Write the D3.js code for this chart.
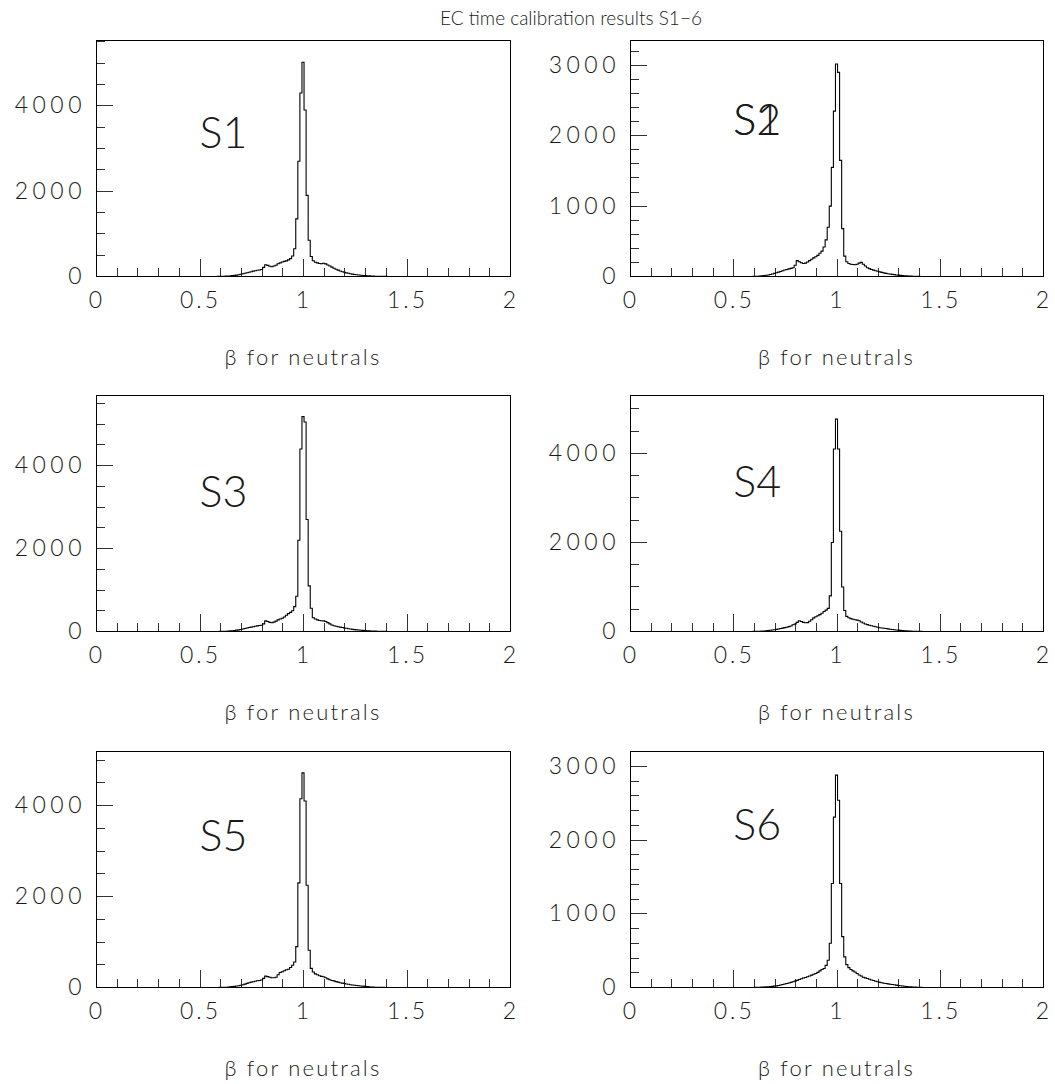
<!DOCTYPE html>
<html>
<head>
<meta charset="utf-8">
<script src="https://cdn.jsdelivr.net/npm/d3@7"></script>
<style>
  html, body { margin: 0; padding: 0; background: #fff; }
  svg { display: block; }
  text { font-family: Lato, "DejaVu Sans", sans-serif; font-weight: 300; fill: #1a1a1a; }
</style>
</head>
<body>
<svg id="chart" width="1055" height="1084"></svg>
<script>
// ---------------- data ----------------
const title = "EC time calibration results S1\u22126";
const sectorLabels = ["S1", "S2", "S3", "S4", "S5", "S6"];
const xTitle = "\u03B2 for neutrals";
const xDomain = [0, 2];
const xMajorTicks = [0, 0.5, 1, 1.5, 2];
const xTickLabels = ["0", "0.5", "1", "1.5", "2"];
const binStart = 0.55;   // centre of first listed bin
const binWidth = 0.01;
// y-axis maxima of each pad
const yMax = [5530, 3353, 5690, 5300, 5190, 3200];
// y major / minor tick steps of each pad
const yMajorStep = [2000, 1000, 2000, 2000, 2000, 1000];
const yMinorStep = [500, 200, 500, 500, 500, 200];
// label anchor (data coordinates) of each pad
const labelX = [0.5, 0.5, 0.5, 0.5, 0.5, 0.5];
const labelY = [3000, 2000, 3000, 3000, 3000, 2000];

// bin contents, bins centred at 0.55, 0.56, ... 1.45 (zero elsewhere)
const s1 = [0,0,0,1,2,3,4,6,8,11,
  15,20,26,33,42,52,63,75,88,100,
  112,125,135,145,152,165,215,275,260,240,
  230,245,265,300,320,340,355,365,390,420,
  480,650,1350,2700,4300,5020,3900,1900,850,470,
  370,335,320,305,300,310,295,270,245,220,
  195,170,150,130,112,98,86,75,65,56,
  48,41,35,30,25,21,17,14,11,9,
  7,5,4,3,2,2,1,1,0,0,
  0];
const s2 = [0,0,0,1,1,2,3,4,6,9,
  13,17,22,28,35,44,53,62,72,82,
  92,100,108,115,125,160,225,210,195,185,
  190,205,225,245,265,280,300,330,360,420,
  520,700,1000,1550,2350,3020,2900,1650,680,290,
  210,185,175,170,168,175,190,200,175,150,
  125,112,100,90,82,74,66,58,51,45,
  40,35,30,26,22,19,16,13,11,9,
  7,5,4,3,2,2,1,1,0,0,
  0];
const s3 = [0,0,0,0,1,2,3,5,7,10,
  14,19,25,32,40,50,60,72,84,96,
  106,115,125,135,145,152,185,255,240,220,
  210,225,250,280,300,320,350,390,430,460,
  500,600,850,2200,4400,5180,5050,2700,1100,560,
  330,300,280,265,260,255,240,215,185,155,
  140,128,116,105,96,86,77,68,60,52,
  45,40,35,30,26,22,18,15,12,10,
  8,6,5,4,3,2,1,1,0,0,
  0];
const s4 = [0,0,0,0,1,2,3,4,6,9,
  12,16,21,27,33,40,48,57,66,76,
  86,96,110,125,150,170,205,240,225,205,
  195,200,230,265,305,330,355,380,410,450,
  480,520,800,2000,4100,4770,4100,2250,1000,470,
  340,310,290,275,265,255,240,215,190,168,
  155,142,130,118,106,95,85,78,72,66,
  58,52,45,40,35,30,25,21,17,14,
  11,9,7,5,4,3,2,1,1,0,
  0];
const s5 = [0,0,0,0,1,2,3,5,7,10,
  14,19,25,32,40,51,62,75,90,105,
  118,128,138,148,155,165,200,250,240,225,
  215,213,225,280,330,345,370,390,400,440,
  490,560,900,2300,4150,4720,4100,2250,820,420,
  340,300,280,260,245,235,215,190,170,155,
  145,130,118,106,96,88,78,70,62,55,
  51,44,38,33,30,24,19,15,12,9,
  7,5,4,3,2,1,1,0,0,0,
  0];
const s6 = [0,0,0,0,1,1,2,3,4,5,
  6,8,10,12,15,18,22,27,33,40,
  48,54,62,70,78,86,96,108,118,128,
  136,145,155,168,180,190,205,225,245,258,
  300,370,600,1410,2310,2880,2540,1410,690,415,
  310,270,245,225,210,190,170,155,140,130,
  122,112,102,94,85,77,70,64,58,54,
  49,45,41,37,32,28,24,20,17,14,
  11,9,7,5,4,3,2,1,1,0,
  0];
const series = [s1, s2, s3, s4, s5, s6];

// ---------------- layout ----------------
const svg = d3.select("#chart");
const colLeft = [96, 630];
const colRight = [510, 1043];
const rowTop = [40, 395, 751];
const padH = 236;

svg.append("text")
  .attr("x", 571).attr("y", 25)
  .attr("text-anchor", "middle")
  .style("font-size", "19px")
  .style("letter-spacing", "0px")
  .text(title);

series.forEach((vals, i) => {
  const col = i % 2, row = Math.floor(i / 2);
  const x0 = colLeft[col], x1 = colRight[col];
  const y0 = rowTop[row], y1 = rowTop[row] + padH;
  const x = d3.scaleLinear().domain(xDomain).range([x0, x1]);
  const y = d3.scaleLinear().domain([0, yMax[i]]).range([y1, y0]);
  const g = svg.append("g");

  // x ticks (inside, upward)
  const isMajorX = d => xMajorTicks.some(m => Math.abs(m - d) < 1e-9);
  const xMinor = d3.range(0, 21).map(k => k / 10);
  const xAxis = d3.axisTop(x).tickValues(xMinor).tickSizeOuter(0).tickFormat("");
  const gx = g.append("g").attr("transform", `translate(0,${y1})`).call(xAxis);
  gx.select(".domain").remove();
  gx.selectAll(".tick line")
    .attr("y2", d => isMajorX(d) ? -17 : -8.5)
    .attr("stroke", "#333").attr("shape-rendering", "crispEdges");

  // y ticks (inside, rightward)
  const yMinor = d3.range(0, yMax[i] + 1e-6, yMinorStep[i]);
  const yAxis = d3.axisRight(y).tickValues(yMinor).tickSizeOuter(0).tickFormat("");
  const gy = g.append("g").attr("transform", `translate(${x0},0)`).call(yAxis);
  gy.select(".domain").remove();
  gy.selectAll(".tick line")
    .attr("x2", d => (d % yMajorStep[i] === 0) ? 17 : 9)
    .attr("stroke", "#333").attr("shape-rendering", "crispEdges");

  // histogram as steps
  const pts = [[xDomain[0], 0]];
  vals.forEach((v, k) => {
    const lo = binStart + k * binWidth - binWidth / 2;
    pts.push([lo, v]);
  });
  const lastHi = binStart + (vals.length - 1) * binWidth + binWidth / 2;
  pts.push([lastHi, 0]);
  pts.push([xDomain[1], 0]);
  const line = d3.line().x(d => x(d[0])).y(d => y(d[1]) + 0.5).curve(d3.curveStepAfter);
  g.append("path").datum(pts)
    .attr("d", line)
    .attr("fill", "none")
    .attr("stroke", "#000")
    .attr("stroke-width", 1.1);

  // frame
  g.append("rect")
    .attr("x", x0).attr("y", y0)
    .attr("width", x1 - x0).attr("height", y1 - y0)
    .attr("fill", "none").attr("stroke", "#000").attr("stroke-width", 1)
    .attr("shape-rendering", "crispEdges");

  // x tick labels
  xMajorTicks.forEach((t, k) => {
    g.append("text")
      .attr("x", x(t) + 1).attr("y", y1 + 32)
      .attr("text-anchor", "middle")
      .style("font-size", "23px")
      .style("letter-spacing", "3px")
      .text(xTickLabels[k]);
  });

  // y tick labels
  const yMajor = d3.range(0, yMax[i] + 1e-6, yMajorStep[i]);
  yMajor.forEach(t => {
    g.append("text")
      .attr("x", x0 - 10).attr("y", y(t) + 8)
      .attr("text-anchor", "end")
      .style("font-size", "23px")
      .style("letter-spacing", "4.5px")
      .text(d3.format("d")(t));
  });

  // axis title
  g.append("text")
    .attr("x", (x0 + x1) / 2).attr("y", y1 + 89)
    .attr("text-anchor", "middle")
    .style("font-size", "22px")
    .style("letter-spacing", "2.2px")
    .text(xTitle);

  // sector label
  g.append("text")
    .attr("x", x(labelX[i])).attr("y", y(labelY[i]))
    .style("font-size", "43px")
    .text(sectorLabels[i]);
  if (i === 1) {
    // overprinted "S1" on "S2" as in the original
    g.append("text")
      .attr("x", x(labelX[i])).attr("y", y(labelY[i]))
      .style("font-size", "43px")
      .text("S1");
  }
});
</script>
</body>
</html>
